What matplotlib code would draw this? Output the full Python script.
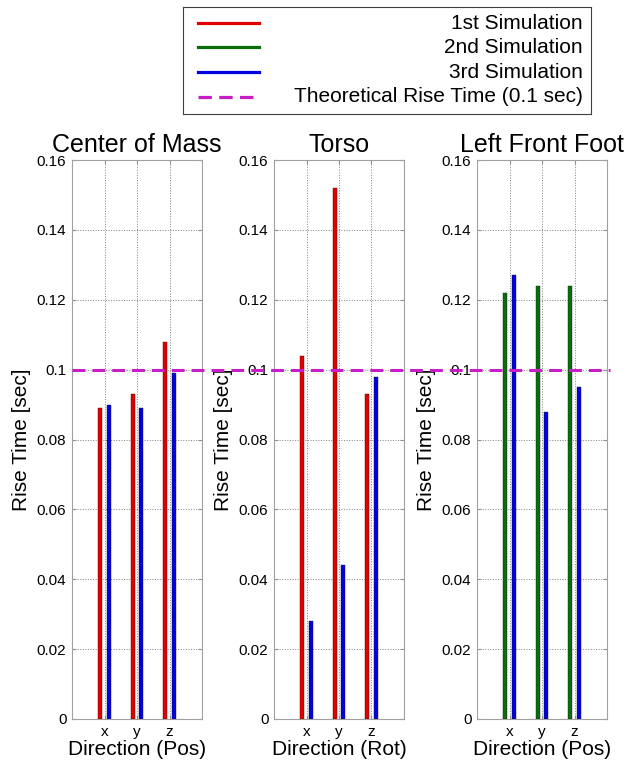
import matplotlib
matplotlib.use("Agg")
import matplotlib.pyplot as plt
from matplotlib.lines import Line2D
from matplotlib.transforms import blended_transform_factory

plt.rcParams['font.family'] = ['Liberation Sans', 'DejaVu Sans']

directions = ["x", "y", "z"]
titles = ["Center of Mass", "Torso", "Left Front Foot"]
xlabels = ["Direction (Pos)", "Direction (Rot)", "Direction (Pos)"]

com_first = [0.089, 0.093, 0.108]
com_third = [0.090, 0.089, 0.099]
torso_first = [0.104, 0.152, 0.093]
torso_third = [0.028, 0.044, 0.098]
foot_second = [0.122, 0.124, 0.124]
foot_third = [0.127, 0.088, 0.095]

theoretical = 0.1
y_ticks = [0, 0.02, 0.04, 0.06, 0.08, 0.1, 0.12, 0.14, 0.16]
y_ticklabels = ["0", "0.02", "0.04", "0.06", "0.08", "0.1", "0.12", "0.14", "0.16"]

red = "#e00000"
green = "#0a6e0a"
blue = "#0000e0"
magenta = "#c81ec8"
dash = (0, (4.2, 2.3))

panels = [
    [(com_first, red), (com_third, blue)],
    [(torso_first, red), (torso_third, blue)],
    [(foot_second, green), (foot_third, blue)],
]

fig = plt.figure(figsize=(6.37, 7.64), dpi=100)

W, H = 637.0, 764.0
lefts = [72, 274, 477]
ax_w = 130
ax_top, ax_bot = 160, 719

axes = []
for i in range(3):
    ax = fig.add_axes([lefts[i] / W, 1 - ax_bot / H, ax_w / W, (ax_bot - ax_top) / H])
    axes.append(ax)
    pos = [1, 2, 3]
    offsets = [-0.13, 0.13]
    for (vals, col), off in zip(panels[i], offsets):
        ax.bar([p + off for p in pos], vals, width=0.11, color=col,
               edgecolor="#600000" if col == red else "#202020", linewidth=0.3, zorder=3)
    ax.set_xlim(0, 4)
    ax.set_ylim(0, 0.16)
    ax.set_xticks(pos)
    ax.set_xticklabels(directions, fontsize=11)
    ax.set_yticks(y_ticks)
    ax.set_yticklabels(y_ticklabels, fontsize=11)
    ax.grid(True, linestyle=":", color="#808080", linewidth=0.7, zorder=0)
    ax.set_axisbelow(True)
    ax.tick_params(direction="in", length=3, color="#909090", top=True, right=True, pad=4)
    for s in ax.spines.values():
        s.set_color("#a0a0a0")
        s.set_linewidth(0.8)
    ax.set_title(titles[i], fontsize=18, pad=6)
    ax.set_xlabel(xlabels[i], fontsize=15, labelpad=1)
    ax.set_ylabel("Rise Time [sec]", fontsize=15, labelpad=4)

# dashed theoretical line spanning all panels
trans = blended_transform_factory(fig.transFigure, axes[0].transData)
x0 = lefts[0] / W
x1 = (lefts[2] + ax_w + 3) / W
fig.add_artist(Line2D([x0, x1], [theoretical, theoretical], transform=trans,
                      color=magenta, linestyle=dash, linewidth=2.2, zorder=5))

# legend box drawn manually (lines left, text right)
leg = fig.add_axes([183 / W, 1 - 114 / H, 408 / W, 107 / H])
leg.set_xlim(0, 408)
leg.set_ylim(107, 0)
leg.set_xticks([])
leg.set_yticks([])
for s in leg.spines.values():
    s.set_color("#404040")
    s.set_linewidth(0.8)
entries = [
    ("1st Simulation", red, "-"),
    ("2nd Simulation", green, "-"),
    ("3rd Simulation", blue, "-"),
    ("Theoretical Rise Time (0.1 sec)", magenta, dash),
]
rows = [16, 40, 65, 90]
for (label, col, ls), yy in zip(entries, rows):
    leg.plot([15, 76], [yy, yy], color=col, linestyle=ls, linewidth=2.3)
    leg.text(400, yy, label, ha="right", va="center", fontsize=15)

fig.savefig("out.png", dpi=100)
